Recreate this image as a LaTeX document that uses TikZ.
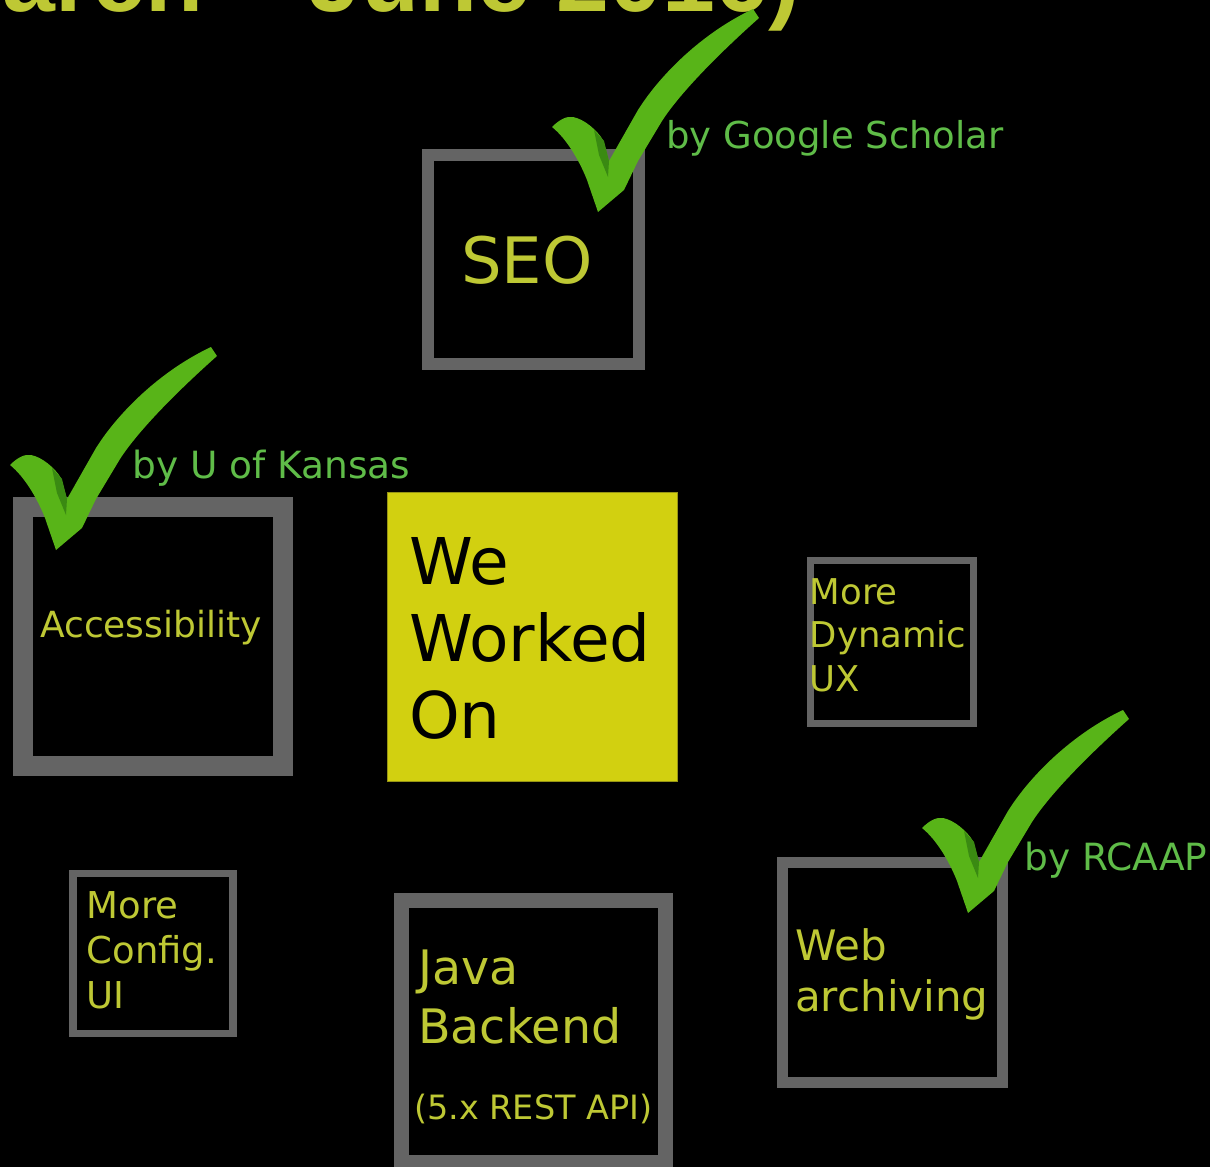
\documentclass[tikz,border=0pt]{standalone}
\usepackage{fontspec}
\setmainfont{DejaVu Sans}
\newfontfamily\headfont{Liberation Sans}
\usepackage{tikz}
\usetikzlibrary{
  backgrounds,
  positioning,
}
\definecolor{framegray}{RGB}{100, 100, 100}
\definecolor{lime}{RGB}{190, 200, 52}
\definecolor{labelgreen}{RGB}{95, 188, 72}
\definecolor{tickgreen}{RGB}{88, 180, 24}
\definecolor{tickshade}{RGB}{58, 138, 18}
\definecolor{slideyellow}{RGB}{210, 208, 16}
\tikzstyle{topic} = [
  rectangle,
  draw=framegray,
  fill=black,
  inner sep=0pt,
]
\tikzstyle{topictext} = [
  anchor=base west,
  inner sep=0pt,
  align=left,
  text=lime,
]
\tikzstyle{bylabel} = [
  anchor=base west,
  inner sep=0pt,
  text=labelgreen,
]
\tikzset{
  greencheck/.pic={
    \fill [tickgreen] (0,0) .. controls (8,-8) and (15,-11) .. (21,-10)
      .. controls (32,-8) and (45,3) .. (51,13) -- (57,34)
      -- (86,-17) .. controls (108,-52) and (150,-94) .. (201,-118)
      -- (207,-109) .. controls (180,-85) and (132,-40) .. (110,-6)
      -- (86,34) -- (72,63) -- (46,85)
      -- (35,53) .. controls (28,35) and (15,12) .. (0,0) -- cycle;
    \fill [tickshade] (42,3) -- (52,14) -- (57,34) -- (56,50) -- (47,28) -- cycle;
  }
}

\begin{document}
\begin{tikzpicture}[
    x=1pt, y=-1pt,
    every node/.append style={font=\fontsize{36}{45}\selectfont},
  ]
  \useasboundingbox (0,0) rectangle (1210,1167);
  \clip (0,0) rectangle (1210,1167);
  \fill [black] (0,0) rectangle (1210,1167);

  % title, cut by the top edge
  \node [anchor=base east, inner sep=0pt, text=lime, font=\headfont\bfseries\fontsize{95}{95}\selectfont] (title) at (800,11) {(March – June 2016)};

  % the boxes
  \node [topic, line width=12pt, minimum width=211pt, minimum height=209pt] (seo) at (533.5,259.5) {};
  \node [topic, line width=20pt, minimum width=260pt, minimum height=259pt] (access) at (153,636.5) {};
  \node [rectangle, draw={rgb,255:red,150;green,148;blue,20}, line width=1.5pt, fill=slideyellow, minimum width=290pt, minimum height=289pt] (worked) at (532.5,637) {};
  \node [topic, line width=7pt, minimum width=163pt, minimum height=163pt] (dynux) at (892,641.5) {};
  \node [topic, line width=7.5pt, minimum width=160pt, minimum height=160pt] (config) at (153,953.5) {};
  \node [topic, line width=15pt, minimum width=264pt, minimum height=262pt] (java) at (533.5,1031.5) {};
  \node [topic, line width=11pt, minimum width=220pt, minimum height=220pt] (webarch) at (892.5,972.5) {};

  % texts in the boxes (base = last line)
  \node [topictext, font=\fontsize{64}{64}\selectfont] (seotext) at (461,283) {SEO};
  \node [topictext, font=\fontsize{36}{36}\selectfont] (accesstext) at (40,637) {Accessibility};
  \node [topictext, text=black, font=\fontsize{64.5}{77}\selectfont] (workedtext) at (409,738) {We\\Worked\\On};
  \node [topictext, font=\fontsize{35.5}{43.5}\selectfont] (dynuxtext) at (809.5,691) {More\\Dynamic\\UX};
  \node [topictext, font=\fontsize{37}{45}\selectfont] (configtext) at (86.5,1008) {More\\Config.\\UI};
  \node [topictext, font=\fontsize{47.5}{59}\selectfont] (javatext) at (418,1043) {Java\\Backend};
  \node [topictext, font=\fontsize{33.5}{33.5}\selectfont] (javanote) at (414,1119) {(5.x REST API)};
  \node [topictext, font=\fontsize{42}{51}\selectfont] (webtext) at (795,1011) {Web\\archiving};

  % ticks and who did it
  \pic at (552,127) {greencheck};
  \pic at (10,465) {greencheck};
  \pic at (922,828) {greencheck};
  \node [bylabel, font=\fontsize{37}{37}\selectfont] (bygoogle) at (666,148) {by Google Scholar};
  \node [bylabel, font=\fontsize{37.5}{37.5}\selectfont] (bykansas) at (132,478) {by U of Kansas};
  \node [bylabel, font=\fontsize{37.5}{37.5}\selectfont] (byrcaap) at (1024,870) {by RCAAP};
\end{tikzpicture}
\end{document}
